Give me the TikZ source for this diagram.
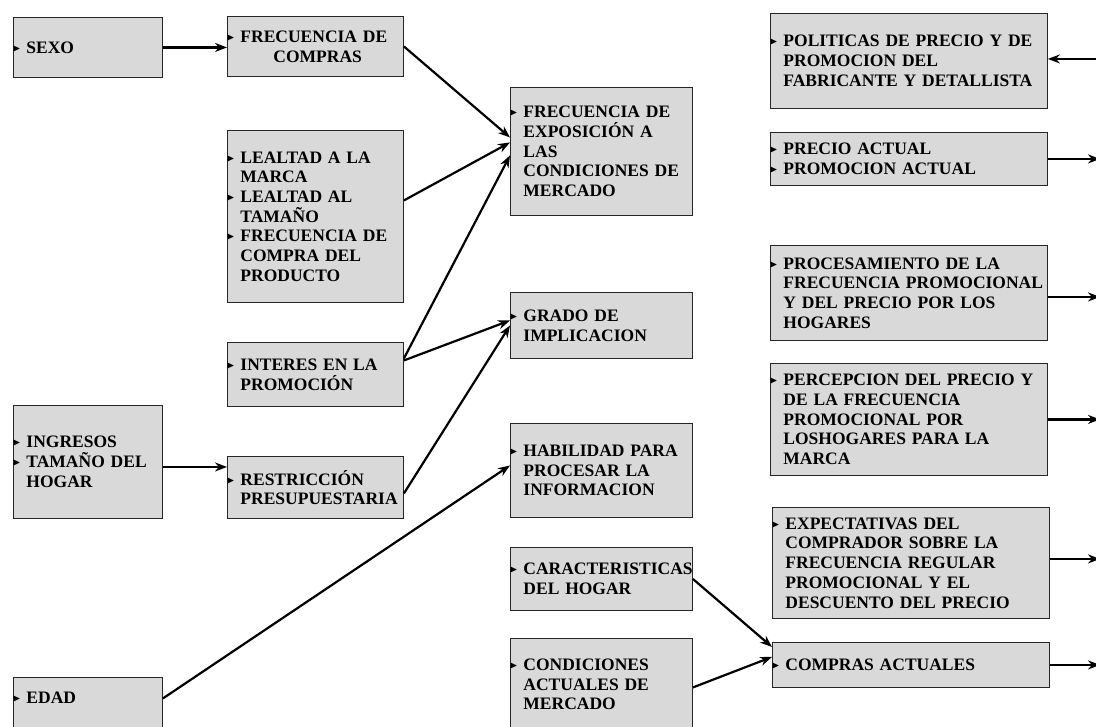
\documentclass[tikz,border=0pt]{standalone}
\usepackage{amssymb}
\usepackage{fontspec}
\setmainfont{Liberation Serif}
\usetikzlibrary{arrows.meta}

\newcommand{\itm}{\makebox[11pt][l]{\hspace*{-2.5pt}\raisebox{2pt}{\fontsize{10}{10}\selectfont$\blacktriangleright$}}}
\newcommand{\sgt}{\hspace*{11pt}}

\tikzset{
  caja/.style={draw=black!85, fill=black!15, line width=0.9pt, anchor=north west,
    inner xsep=2pt, inner ysep=2pt, align=left,
    font=\bfseries\fontsize{17.5}{19.7}\selectfont},
  flecha/.style={-{Stealth[length=12pt,width=9pt]}, line width=2.2pt},
}

\begin{document}
\begin{tikzpicture}[x=1pt,y=-1pt]
  \useasboundingbox (0,0) rectangle (1096,727);
  \fill[white] (0,0) rectangle (1096,727);
  \clip (0,0) rectangle (1096,727);
  \coordinate (borde) at (1100,0);

  % primera columna
  \node[caja, minimum width=149pt, minimum height=60pt, text width=145pt] (sexo) at (13,17) {\itm SEXO};
  \node[caja, minimum width=149pt, minimum height=113pt, text width=145pt] (ingresos) at (13,405)
    {\itm INGRESOS\\ \itm TAMAÑO DEL\\ \sgt HOGAR};
  \node[caja, minimum width=149pt, text width=145pt, text height=24pt, text depth=40pt] (edad) at (13,677) {\itm EDAD};

  % segunda columna
  \node[caja, minimum width=176pt, minimum height=60pt, text width=172pt] (frecCompras) at (227,16)
    {\itm FRECUENCIA DE\\ \hspace*{44pt}COMPRAS};
  \node[caja, minimum width=176pt, minimum height=172pt, text width=172pt] (lealtad) at (227,130)
    {\itm LEALTAD A LA\\ \sgt MARCA\\ \itm LEALTAD AL\\ \sgt TAMAÑO\\ \itm FRECUENCIA DE\\ \sgt COMPRA DEL\\ \sgt PRODUCTO};
  \node[caja, minimum width=176pt, minimum height=64pt, text width=172pt] (interes) at (227,342)
    {\itm INTERES EN LA\\ \sgt PROMOCIÓN};
  \node[caja, minimum width=176pt, minimum height=62pt, text width=172pt] (restriccion) at (227,456)
    {\itm RESTRICCIÓN\\ \sgt PRESUPUESTARIA};

  % tercera columna
  \node[caja, minimum width=182pt, minimum height=128pt, text width=178pt] (exposicion) at (510,87)
    {\itm FRECUENCIA DE\\ \sgt EXPOSICIÓN A\\ \sgt LAS\\ \sgt CONDICIONES DE\\ \sgt MERCADO};
  \node[caja, minimum width=182pt, minimum height=66pt, text width=178pt] (implicacion) at (510,292)
    {\itm GRADO DE\\ \sgt IMPLICACION};
  \node[caja, minimum width=182pt, minimum height=94pt, text width=178pt] (habilidad) at (510,423)
    {\itm HABILIDAD PARA\\ \sgt PROCESAR LA\\ \sgt INFORMACION};
  \node[caja, minimum width=182pt, minimum height=63pt, text width=178pt] (caracteristicas) at (510,547)
    {\itm CARACTERISTICAS\\ \sgt DEL HOGAR};
  \node[caja, minimum width=182pt, text width=178pt, text height=30pt, text depth=70pt] (condiciones) at (510,638)
    {\itm CONDICIONES\\ \sgt ACTUALES DE\\ \sgt MERCADO};

  % cuarta columna
  \node[caja, minimum width=277pt, minimum height=95pt, text width=273pt] (politicas) at (770,13)
    {\itm POLITICAS DE PRECIO Y DE\\ \sgt PROMOCION DEL\\ \sgt FABRICANTE Y DETALLISTA};
  \node[caja, minimum width=277pt, minimum height=53pt, text width=273pt] (precio) at (770,132)
    {\itm PRECIO ACTUAL\\ \itm PROMOCION ACTUAL};
  \node[caja, minimum width=277pt, minimum height=95pt, text width=273pt] (procesamiento) at (770,245)
    {\itm PROCESAMIENTO DE LA\\ \sgt FRECUENCIA PROMOCIONAL\\ \sgt Y DEL PRECIO POR LOS\\ \sgt HOGARES};
  \node[caja, minimum width=277pt, minimum height=112pt, text width=273pt] (percepcion) at (770,363)
    {\itm PERCEPCION DEL PRECIO Y\\ \sgt DE LA FRECUENCIA\\ \sgt PROMOCIONAL POR\\ \sgt LOSHOGARES PARA LA\\ \sgt MARCA};
  \node[caja, minimum width=277pt, minimum height=111pt, text width=273pt] (expectativas) at (772,507)
    {\itm EXPECTATIVAS DEL\\ \sgt COMPRADOR SOBRE LA\\ \sgt FRECUENCIA REGULAR\\ \sgt PROMOCIONAL Y EL\\ \sgt DESCUENTO DEL PRECIO};
  \node[caja, minimum width=277pt, minimum height=45pt, text width=273pt] (comprasAct) at (772,642)
    {\itm COMPRAS ACTUALES};

  % flechas
  \draw[flecha] (sexo.east) -- (sexo.east -| frecCompras.west);
  \draw[flecha] (frecCompras.east) -- ([yshift=14pt]exposicion.west);
  \draw[flecha] ([yshift=16pt]lealtad.east) -- ([yshift=9pt]exposicion.west);
  \draw[flecha] ([yshift=16pt]interes.east) -- ([yshift=-4pt]exposicion.west);
  \draw[flecha] ([yshift=14pt]interes.east) -- ([yshift=5pt]implicacion.west);
  \draw[flecha] ([yshift=-6pt]restriccion.east) -- (implicacion.west);
  \draw[flecha] ([yshift=-5pt]ingresos.east) -- ([yshift=-5pt]ingresos.east -| restriccion.west);
  \draw[flecha] ([yshift=5pt]edad.base east) -- ([yshift=5pt]habilidad.west);
  \draw[flecha] (caracteristicas.east) -- ([yshift=18pt]comprasAct.west);
  \draw[flecha] ([yshift=-17pt]condiciones.base east) -- ([yshift=8pt]comprasAct.west);

  \draw[flecha] ([yshift=2pt]politicas.east -| borde) -- ([yshift=2pt]politicas.east);
  \draw[flecha] (precio.east) -- (precio.east -| borde);
  \draw[flecha] ([yshift=-4pt]procesamiento.east) -- ([yshift=-4pt]procesamiento.east -| borde);
  \draw[flecha] (percepcion.east) -- (percepcion.east -| borde);
  \draw[flecha] ([yshift=4pt]expectativas.east) -- ([yshift=4pt]expectativas.east -| borde);
  \draw[flecha] (comprasAct.east) -- (comprasAct.east -| borde);
\end{tikzpicture}
\end{document}
